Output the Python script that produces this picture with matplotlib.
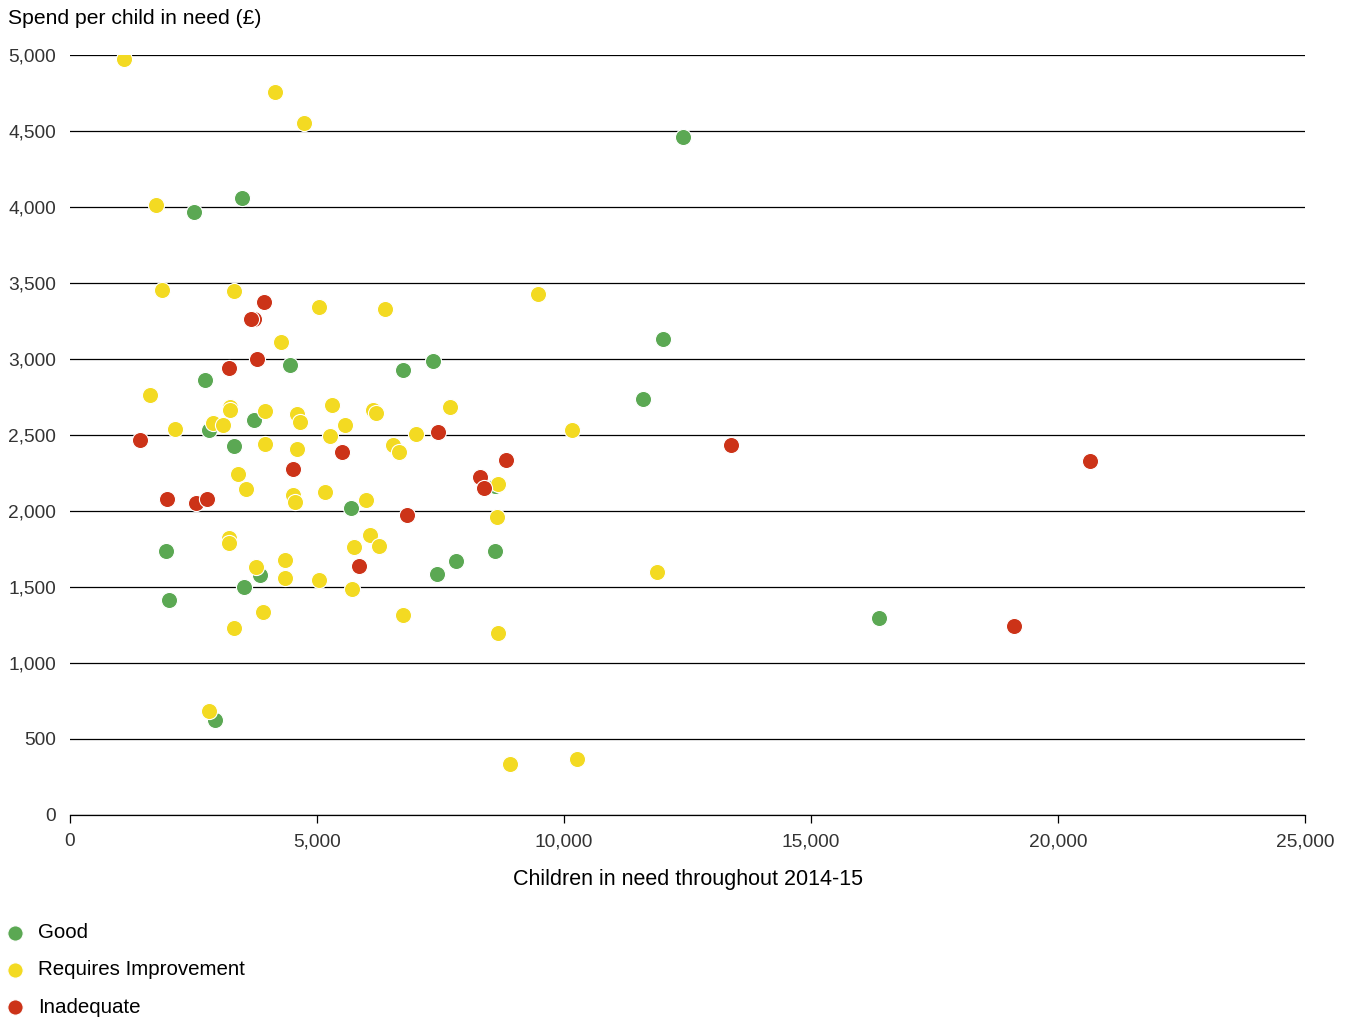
import matplotlib
matplotlib.use("Agg")
import matplotlib.pyplot as plt
from matplotlib.ticker import FuncFormatter, MultipleLocator

plt.rcParams['font.family'] = ['Liberation Sans', 'DejaVu Sans']

# children in need (x) and spend per child in need (y), by Ofsted rating
good_x = [12400, 2510, 3480, 12000, 2730, 4450, 6740, 7350, 11600, 3720, 2810, 3320,
          8600, 5690, 1940, 3850, 7430, 7810, 8600, 3520, 2000, 2930, 16380]
good_y = [4460, 3970, 4060, 3130, 2860, 2960, 2930, 2990, 2740, 2600, 2530, 2430,
          2165, 2020, 1737, 1580, 1586, 1671, 1737, 1500, 1414, 625, 1296]

ri_x = [1090, 4150, 4740, 1740, 1860, 3320, 5040, 6380, 9470, 4270, 1620, 2120,
        2895, 3100, 3240, 3240, 3950, 3950, 4600, 4660, 5300, 5570, 5260, 6130,
        6190, 7690, 4600, 6540, 6660, 7000, 10160, 3400, 3560, 4510, 4560, 5160,
        5990, 8640, 8660, 3220, 3220, 4350, 3760, 4350, 5040, 5750, 6070, 6250,
        5710, 3910, 3320, 6740, 8660, 11880, 2810, 8910, 10260]
ri_y = [4974, 4757, 4553, 4013, 3454, 3447, 3342, 3329, 3428, 3112, 2763, 2540,
        2579, 2566, 2684, 2664, 2658, 2441, 2638, 2586, 2697, 2566, 2493, 2664,
        2645, 2684, 2408, 2434, 2388, 2507, 2533, 2243, 2145, 2105, 2059, 2125,
        2072, 1961, 2178, 1822, 1790, 1678, 1632, 1559, 1546, 1763, 1842, 1770,
        1487, 1336, 1230, 1316, 1197, 1599, 684, 336, 368]

inad_x = [1420, 1960, 2550, 2770, 3930, 3720, 3660, 3790, 3220, 4510, 5510, 5850,
          6820, 7450, 8300, 8380, 8830, 13380, 20650, 19110]
inad_y = [2467, 2079, 2053, 2079, 3375, 3263, 3263, 3000, 2941, 2276, 2388, 1638,
          1974, 2520, 2224, 2151, 2335, 2434, 2329, 1243]

series = [("Good", good_x, good_y, "#5BA853"),
          ("Requires Improvement", ri_x, ri_y, "#F3DA22"),
          ("Inadequate", inad_x, inad_y, "#CC3318")]

fig = plt.figure(figsize=(13.49, 10.19), dpi=100)
ax = fig.add_axes([0.0519, 0.2002, 0.9155, 0.7458])

for label, xs, ys, col in series:
    ax.scatter(xs, ys, s=135, color=col, edgecolors="white", linewidths=0.8,
               label=label, zorder=3)

ax.set_xlim(0, 25000)
ax.set_ylim(0, 5000)
ax.xaxis.set_major_locator(MultipleLocator(5000))
ax.yaxis.set_major_locator(MultipleLocator(500))
fmt = FuncFormatter(lambda v, p: f"{int(v):,}")
ax.xaxis.set_major_formatter(fmt)
ax.yaxis.set_major_formatter(fmt)

ax.grid(axis="y", color="black", linewidth=0.9, zorder=1)
for s in ["top", "right", "left"]:
    ax.spines[s].set_visible(False)
ax.spines["bottom"].set_linewidth(0.9)
ax.tick_params(axis="y", length=0, pad=10, labelsize=13.8, labelcolor="#333333")
ax.tick_params(axis="x", length=6, width=0.9, pad=7, labelsize=13.8, labelcolor="#333333")

ax.set_xlabel("Children in need throughout 2014-15", fontsize=15.5, labelpad=14)
fig.text(0.006, 0.982, "Spend per child in need (£)", fontsize=15.2, va="center")

leg = fig.legend(loc="upper left", bbox_to_anchor=(-0.012, 0.112), frameon=False,
                 fontsize=14.8, handletextpad=0.55, labelspacing=0.88,
                 markerscale=0.95, handlelength=1.2)
for h in leg.legend_handles:
    h.set_edgecolor("white")

fig.savefig("out.png", dpi=100)
